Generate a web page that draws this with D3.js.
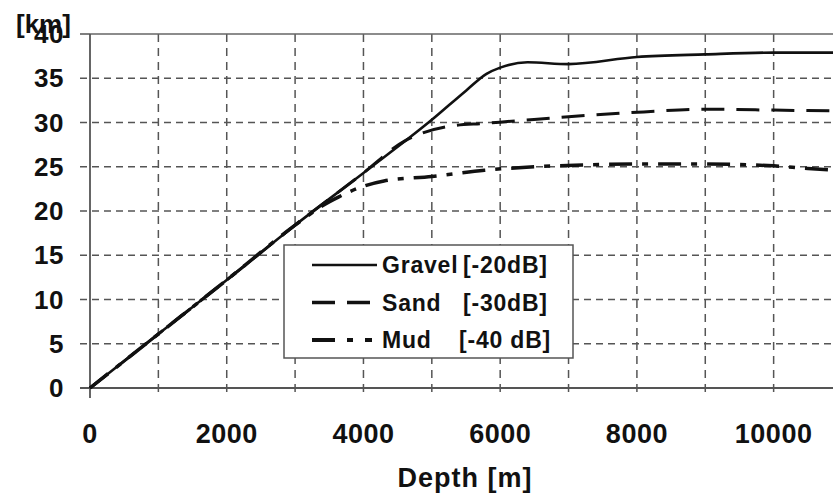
<!DOCTYPE html>
<html lang="en">
<head>
<meta charset="utf-8">
<title>Range vs depth</title>
<script src="https://cdn.jsdelivr.net/npm/d3@7"></script>
<style>
  body { margin: 0; background: #fff; }
  svg { display: block; font-family: "Liberation Sans", Arial, sans-serif; }
</style>
</head>
<body>
<script>
// data (depth in m, range in km)
var gravelDepth = [0, 1000, 2000, 3000, 4000, 5000, 5500, 5800, 6000, 6400, 7000, 8000, 9000, 10000, 11000];
var gravelKm    = [0, 6.1, 12.2, 18.4, 24.3, 30.3, 33.6, 35.5, 36.2, 36.8, 36.6, 37.4, 37.7, 37.9, 37.9];

var sandDepth = [0, 1000, 2000, 3000, 4000, 4600, 4860, 5280, 5770, 6260, 7000, 8100, 9000, 10000, 11000];
var sandKm    = [0, 6.1, 12.2, 18.4, 24.3, 27.9, 28.8, 29.6, 29.9, 30.2, 30.65, 31.2, 31.5, 31.4, 31.3];

var mudDepth = [0, 1000, 2000, 3000, 3400, 3640, 4000, 4300, 5000, 5770, 6500, 7200, 8000, 9000, 10000, 10500, 11000];
var mudKm    = [0, 6.1, 12.2, 18.4, 20.6, 21.6, 22.8, 23.4, 23.9, 24.6, 25.0, 25.2, 25.3, 25.3, 25.1, 24.8, 24.6];

var xTicks = [0, 2000, 4000, 6000, 8000, 10000];
var xGrid = [1000, 2000, 3000, 4000, 5000, 6000, 7000, 8000, 9000, 10000];
var yTicks = [0, 5, 10, 15, 20, 25, 30, 35, 40];

var legendNames = ["Gravel", "Sand", "Mud"];
var legendLevels = ["[-20dB]", "[-30dB]", "[-40 dB]"];

var width = 833, height = 495;
var x = d3.scaleLinear().domain([0, 11000]).range([90, 842]);
var y = d3.scaleLinear().domain([0, 40]).range([388, 34]);

var svg = d3.select("body").append("svg")
  .attr("width", width)
  .attr("height", height);

var gridColor = "#555";

// horizontal grid (with the little tick stub to the left of the axis)
svg.append("g").selectAll("line")
  .data(yTicks.filter(d => d > 0 && d < 40))
  .enter().append("line")
  .attr("x1", 80).attr("x2", 842)
  .attr("y1", d => y(d)).attr("y2", d => y(d))
  .attr("stroke", gridColor).attr("stroke-width", 1.5)
  .attr("stroke-dasharray", "7,5");

// vertical grid, running down past the axis as the tick
svg.append("g").selectAll("line")
  .data(xGrid)
  .enter().append("line")
  .attr("x1", d => x(d)).attr("x2", d => x(d))
  .attr("y1", y(40)).attr("y2", 398)
  .attr("stroke", gridColor).attr("stroke-width", 1.5)
  .attr("stroke-dasharray", "8,6");

// frame
svg.append("line").attr("x1", 90).attr("x2", 842).attr("y1", y(40)).attr("y2", y(40))
  .attr("stroke", "#666").attr("stroke-width", 1.5);
svg.append("line").attr("x1", 80).attr("x2", 842).attr("y1", y(0)).attr("y2", y(0))
  .attr("stroke", "#555").attr("stroke-width", 1.8);
svg.append("line").attr("x1", 90).attr("x2", 90).attr("y1", y(40)).attr("y2", 398)
  .attr("stroke", "#555").attr("stroke-width", 1.8);
svg.append("line").attr("x1", 80).attr("x2", 90).attr("y1", y(40)).attr("y2", y(40))
  .attr("stroke", "#555").attr("stroke-width", 1.5);

// tick labels
svg.append("g").selectAll("text")
  .data(xTicks)
  .enter().append("text")
  .attr("x", d => x(d)).attr("y", 443)
  .attr("text-anchor", "middle")
  .attr("font-size", 27).attr("font-weight", "bold").attr("letter-spacing", 0.5)
  .attr("fill", "#111")
  .text(d => d);

svg.append("g").selectAll("text")
  .data(yTicks)
  .enter().append("text")
  .attr("x", 64).attr("y", d => y(d) + 9)
  .attr("text-anchor", "end")
  .attr("font-size", 26).attr("font-weight", "bold").attr("letter-spacing", 0.5)
  .attr("fill", "#111")
  .text(d => d);

svg.append("text")
  .attr("x", 16).attr("y", 33)
  .attr("font-size", 26).attr("font-weight", "bold")
  .attr("fill", "#111")
  .text("[km]");

svg.append("text")
  .attr("x", 465).attr("y", 487)
  .attr("text-anchor", "middle")
  .attr("font-size", 27).attr("font-weight", "bold").attr("letter-spacing", 1)
  .attr("fill", "#111")
  .text("Depth [m]");

// curves
var line = d3.line()
  .x(d => x(d[0]))
  .y(d => y(d[1]))
  .curve(d3.curveMonotoneX);

var series = [
  { depth: mudDepth, km: mudKm, dash: "23,10,6,10", w: 3.5 },
  { depth: sandDepth, km: sandKm, dash: "23,12", w: 3 },
  { depth: gravelDepth, km: gravelKm, dash: null, w: 2.6 }
];

series.forEach(function (s) {
  svg.append("path")
    .datum(d3.zip(s.depth, s.km))
    .attr("d", line)
    .attr("fill", "none")
    .attr("stroke", "#111")
    .attr("stroke-width", s.w)
    .attr("stroke-dasharray", s.dash);
});

// legend
var lg = svg.append("g");
lg.append("rect")
  .attr("x", 284).attr("y", 245).attr("width", 289).attr("height", 113)
  .attr("fill", "#fff").attr("stroke", "#555").attr("stroke-width", 1.5);

var legendDash = [null, "23,12", "23,12,6,12"];
var legendW = [2.6, 3.5, 4];
var legendX2 = [377, 370, 372];
legendNames.forEach(function (name, i) {
  var ly = 265 + i * 37.5;
  lg.append("line")
    .attr("x1", 312).attr("x2", legendX2[i])
    .attr("y1", ly).attr("y2", ly)
    .attr("stroke", "#111").attr("stroke-width", legendW[i])
    .attr("stroke-dasharray", legendDash[i]);
  lg.append("text")
    .attr("x", 382).attr("y", ly + 8)
    .attr("font-size", 23).attr("font-weight", "bold").attr("letter-spacing", 0.8)
    .attr("fill", "#111")
    .text(name);
  lg.append("text")
    .attr("x", i === 2 ? 459 : 463).attr("y", ly + 8)
    .attr("font-size", 23).attr("font-weight", "bold").attr("letter-spacing", 0.8)
    .attr("fill", "#111")
    .text(legendLevels[i]);
});
</script>
</body>
</html>
